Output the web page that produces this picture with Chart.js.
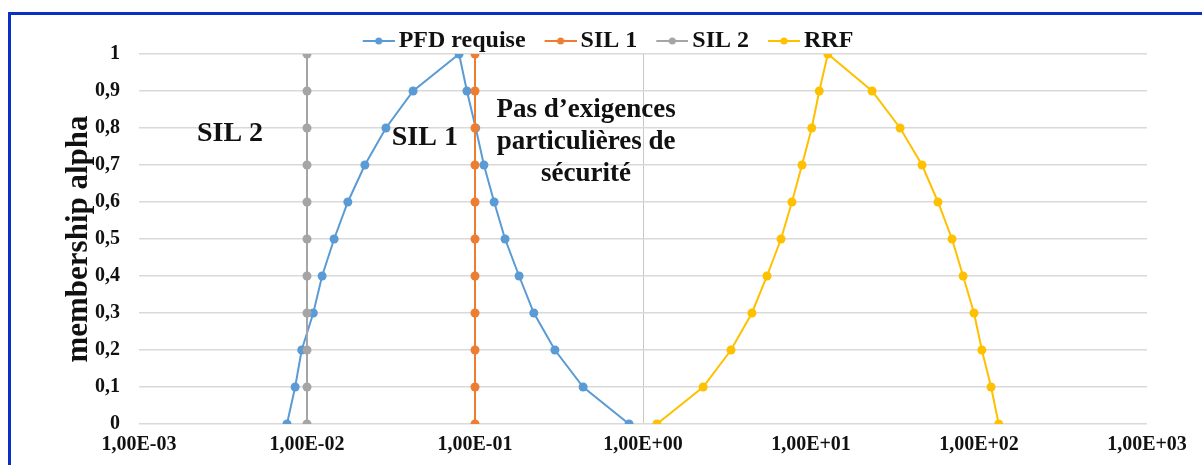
<!DOCTYPE html>
<html>
<head>
<meta charset="utf-8">
<script src="https://cdn.jsdelivr.net/npm/chart.js@4.4.1/dist/chart.umd.min.js"></script>
<style>
    body { margin: 0; background: #fff; }
    #Wrapper { position: relative; width: 1202px; height: 465px; overflow: hidden; }
    #frame { position: absolute; left: 8px; top: 12px; width: 1194px; height: 453px;
             border-top: 3px solid #0a2fc4; border-left: 3px solid #0a2fc4; box-sizing: border-box; }
    #graph { position: absolute; left: 0; top: 0; }
</style>
</head>
<body>
<div id="Wrapper">
    <canvas id="graph" width="1202" height="465"></canvas>
    <div id="frame"></div>
</div>
<script>
"use strict"

// *** DATI *** //
let pfdX = [0.0076, 0.0085, 0.0093, 0.0109, 0.0123, 0.0145, 0.0175, 0.0221, 0.0295, 0.0428, 0.0804,
            0.0895, 0.101, 0.113, 0.130, 0.151, 0.183, 0.224, 0.299, 0.440, 0.826];
let pfdY = [0, 0.1, 0.2, 0.3, 0.4, 0.5, 0.6, 0.7, 0.8, 0.9, 1,
            0.9, 0.8, 0.7, 0.6, 0.5, 0.4, 0.3, 0.2, 0.1, 0];
let sil1X = [0.1, 0.1, 0.1, 0.1, 0.1, 0.1, 0.1, 0.1, 0.1, 0.1, 0.1];
let sil1Y = [0, 0.1, 0.2, 0.3, 0.4, 0.5, 0.6, 0.7, 0.8, 0.9, 1];
let sil2X = [0.01, 0.01, 0.01, 0.01, 0.01, 0.01, 0.01, 0.01, 0.01, 0.01, 0.01];
let sil2Y = [0, 0.1, 0.2, 0.3, 0.4, 0.5, 0.6, 0.7, 0.8, 0.9, 1];
let rrfX = [1.21, 2.28, 3.34, 4.45, 5.47, 6.63, 7.7, 8.84, 10.1, 11.2, 12.6,
            23.1, 33.9, 45.8, 57.0, 69.1, 80.4, 93.4, 104, 118, 131];
let rrfY = [0, 0.1, 0.2, 0.3, 0.4, 0.5, 0.6, 0.7, 0.8, 0.9, 1,
            0.9, 0.8, 0.7, 0.6, 0.5, 0.4, 0.3, 0.2, 0.1, 0];
let xTicks = [0.001, 0.01, 0.1, 1, 10, 100, 1000];
let seriesNames = ["PFD requise", "SIL 1", "SIL 2", "RRF"];
let seriesColors = ["#5b9bd5", "#ed7d31", "#a5a5a5", "#ffc000"];

// *** FUNZIONI *** //
function toPoints (xs, ys) {
    return xs.map((x, i) => ({ x : x, y : ys[i] }));
}

function formatSci (value) {
    let exp = Math.round(Math.log10(value));
    let sign = exp < 0 ? "-" : "+";
    return "1,00E" + sign + String(Math.abs(exp)).padStart(2, "0");
}

// marker legenda: linea con punto, spostato a destra verso il testo
function legendMarker (color) {
    let c = document.createElement("canvas");
    c.width = 49;
    c.height = 12;
    let ctx = c.getContext("2d");
    ctx.strokeStyle = color;
    ctx.lineWidth = 2;
    ctx.beginPath();
    ctx.moveTo(17, 6);
    ctx.lineTo(49, 6);
    ctx.stroke();
    ctx.fillStyle = color;
    ctx.beginPath();
    ctx.arc(33, 6, 3.5, 0, Math.PI * 2);
    ctx.fill();
    return c;
}

let serif = "'Liberation Serif', 'Times New Roman', serif";

// testi sul grafico
let zoneLabels = {
    id : "zoneLabels",
    afterDatasetsDraw (chart) {
        let ctx = chart.ctx;
        let x = chart.scales.x, y = chart.scales.y;
        ctx.save();
        ctx.fillStyle = "#111";
        ctx.textAlign = "center";
        ctx.textBaseline = "middle";
        ctx.font = "bold 28px " + serif;
        ctx.fillText("SIL 2", x.getPixelForValue(0.00348), y.getPixelForValue(0.784));
        ctx.fillText("SIL 1", x.getPixelForValue(0.0503), y.getPixelForValue(0.773));
        ctx.font = "bold 27px " + serif;
        let cx = x.getPixelForValue(0.458);
        ctx.fillText("Pas d\u2019exigences", cx, y.getPixelForValue(0.849));
        ctx.fillText("particuli\u00e8res de", cx, y.getPixelForValue(0.762));
        ctx.fillText("s\u00e9curit\u00e9", cx, y.getPixelForValue(0.676));
        ctx.restore();
    }
};

// legenda meno alta (toglie lo spazio extra sotto)
let legendSpace = {
    id : "legendSpace",
    beforeLayout (chart) {
        let lg = chart.legend;
        if (!lg || lg._trimmed)
            return;
        let fit = lg.fit;
        lg.fit = function () {
            fit.call(this);
            this.height -= 9;
        };
        lg._trimmed = true;
    }
};

let datasets = [
    [pfdX, pfdY], [sil1X, sil1Y], [sil2X, sil2Y], [rrfX, rrfY]
].map((s, i) => ({
    label : seriesNames[i],
    data : toPoints(s[0], s[1]),
    borderColor : seriesColors[i],
    backgroundColor : seriesColors[i],
    borderWidth : 2,
    pointRadius : 4.5,
    pointBorderWidth : 0,
    showLine : true,
    order : 4 - i
}));

let chart = new Chart(document.getElementById("graph"), {
    type : "scatter",
    data : { datasets : datasets },
    plugins : [zoneLabels, legendSpace],
    options : {
        responsive : false,
        animation : false,
        layout : { padding : { left : 60, right : 55, top : 19, bottom : 0 } },
        plugins : {
            tooltip : { enabled : false },
            legend : {
                position : "top",
                labels : {
                    usePointStyle : true,
                    pointStyleWidth : 33,
                    padding : 10,
                    color : "#111",
                    font : { family : serif, size : 24, weight : "bold" },
                    sort : (a, b) => a.datasetIndex - b.datasetIndex,
                    generateLabels : function (chart) {
                        let items = Chart.defaults.plugins.legend.labels.generateLabels(chart);
                        for (let item of items)
                            item.pointStyle = legendMarker(seriesColors[item.datasetIndex]);
                        return items;
                    }
                }
            }
        },
        scales : {
            x : {
                type : "logarithmic",
                min : 0.001,
                max : 1000,
                afterBuildTicks : function (scale) {
                    scale.ticks = xTicks.map(v => ({ value : v, major : true }));
                },
                afterFit : function (scale) {
                    scale.height = 41;
                },
                border : { display : false },
                grid : {
                    drawTicks : false,
                    color : ctx => (ctx.tick && ctx.tick.value === 1) ? "#c8c8c8" : "rgba(0,0,0,0)",
                    lineWidth : 1
                },
                ticks : {
                    padding : 9,
                    autoSkip : false,
                    maxRotation : 0,
                    color : "#111",
                    font : { family : serif, size : 20, weight : "bold" },
                    callback : v => formatSci(v)
                }
            },
            y : {
                min : 0,
                max : 1,
                afterFit : function (scale) {
                    scale.width = 79;
                },
                border : { display : false },
                grid : { drawTicks : false, color : "#d9d9d9", lineWidth : 1.5 },
                title : {
                    display : true,
                    text : "membership alpha",
                    color : "#111",
                    padding : 0,
                    font : { family : serif, size : 31, weight : "bold" }
                },
                ticks : {
                    stepSize : 0.1,
                    padding : 19,
                    color : "#111",
                    font : { family : serif, size : 20, weight : "bold" },
                    callback : v => String(Math.round(v * 10) / 10).replace(".", ",")
                }
            }
        }
    }
});
</script>
</body>
</html>
